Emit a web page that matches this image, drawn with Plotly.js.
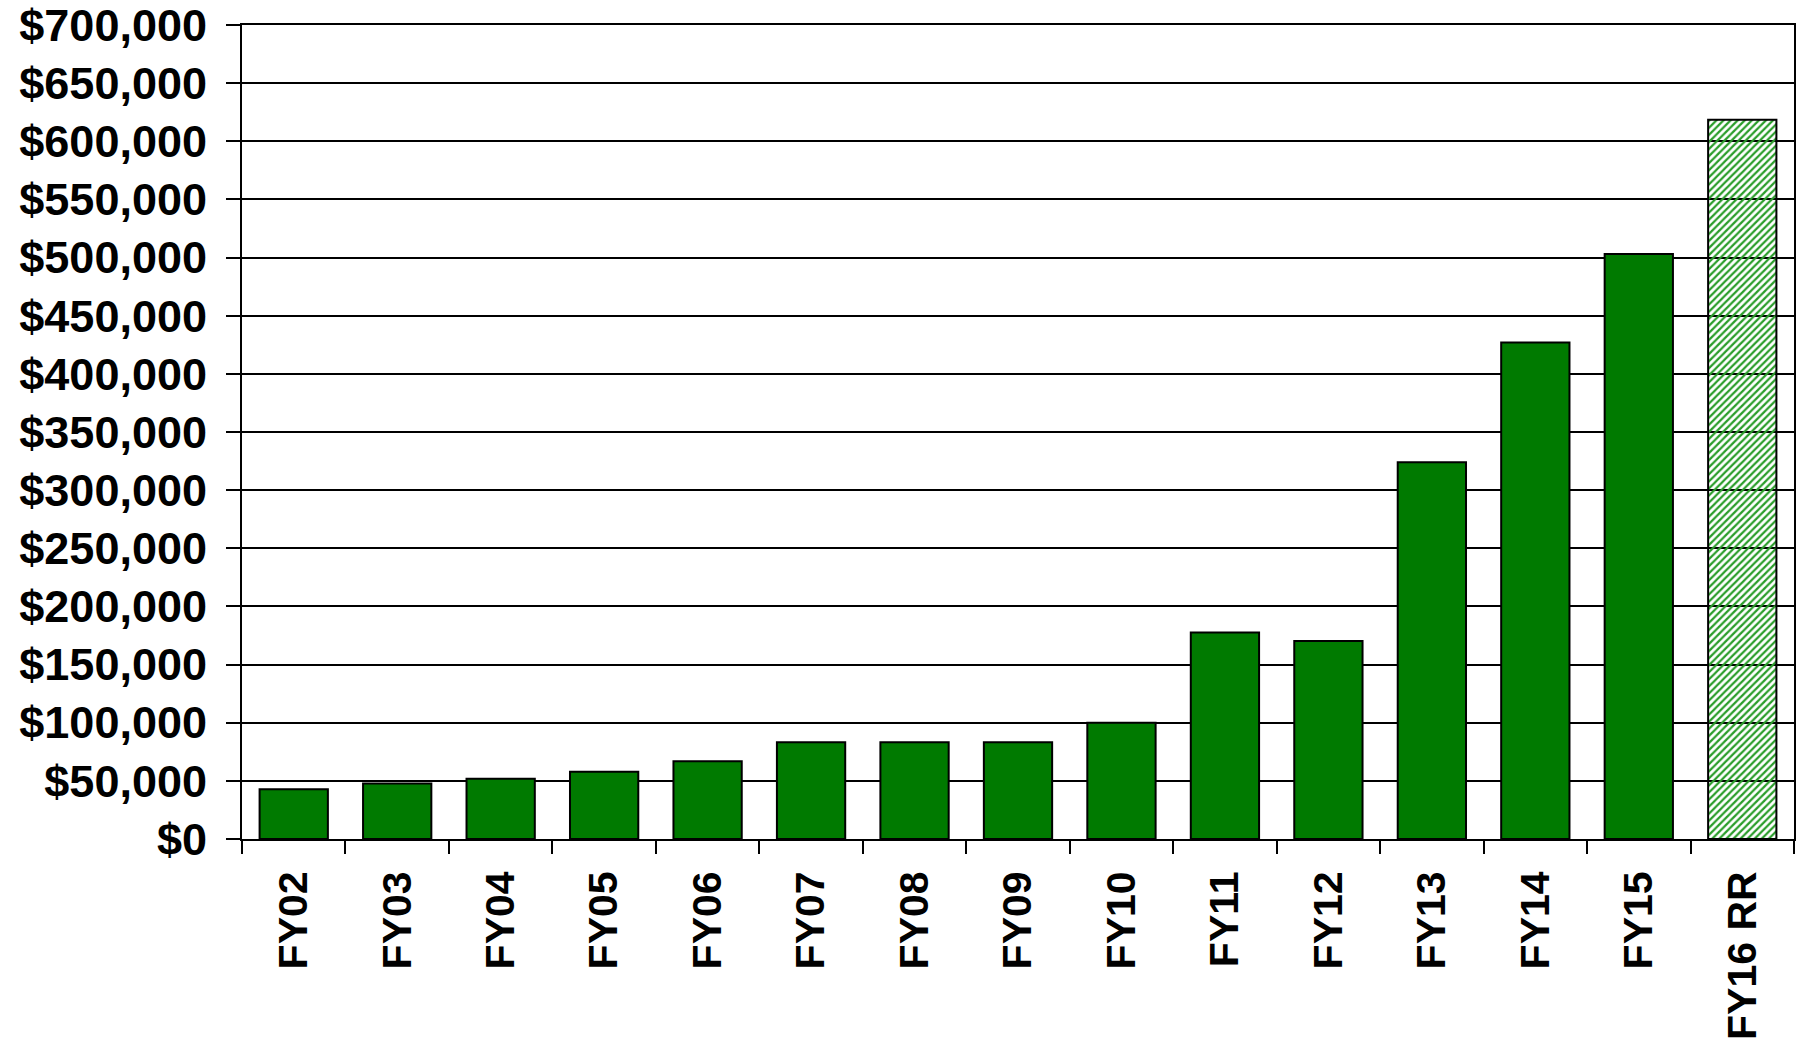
<!DOCTYPE html>
<html>
<head>
<meta charset="utf-8">
<script src="https://cdn.plot.ly/plotly-3.0.1.min.js"></script>
<style>
  html, body { margin: 0; padding: 0; background: #ffffff; }
  #chart { width: 1800px; height: 1041px; }
</style>
</head>
<body>
<div id="chart"></div>
<script>
const categories = ['FY02','FY03','FY04','FY05','FY06','FY07','FY08','FY09','FY10','FY11','FY12','FY13','FY14','FY15','FY16 RR'];
const amounts = [42800, 47800, 51800, 57900, 66800, 83300, 83300, 83200, 100000, 177600, 170300, 324000, 427000, 503000, 618500];
const patternShapes = ['', '', '', '', '', '', '', '', '', '', '', '', '', '', '/'];
const barColors = ['#007a00','#007a00','#007a00','#007a00','#007a00','#007a00','#007a00','#007a00','#007a00','#007a00','#007a00','#007a00','#007a00','#007a00','#2a9d2a'];
const yTickValues = [0, 50000, 100000, 150000, 200000, 250000, 300000, 350000, 400000, 450000, 500000, 550000, 600000, 650000, 700000];
const yTickLabels = ['$0','$50,000','$100,000','$150,000','$200,000','$250,000','$300,000','$350,000','$400,000','$450,000','$500,000','$550,000','$600,000','$650,000','$700,000'];

const trace = {
  type: 'bar',
  x: categories,
  y: amounts,
  marker: {
    color: barColors,
    line: { color: '#000000', width: 2 },
    pattern: { shape: patternShapes, bgcolor: '#ffffff', size: 5, solidity: 0.45, fillmode: 'replace' }
  },
  hoverinfo: 'x+y'
};

const layout = {
  width: 1800,
  height: 1041,
  paper_bgcolor: '#ffffff',
  plot_bgcolor: '#ffffff',
  margin: { l: 242, r: 6, t: 25, b: 202 },
  bargap: 0.34,
  showlegend: false,
  xaxis: {
    type: 'category',
    tickangle: -90,
    tickson: 'boundaries',
    ticks: 'outside',
    ticklen: 13,
    tickwidth: 2,
    tickcolor: '#000000',
    showline: true,
    linecolor: '#000000',
    linewidth: 2,
    mirror: true,
    showgrid: false,
    ticklabelstandoff: 14,
    ticklabeloverflow: 'allow',
    tickfont: { family: 'Liberation Sans, Arial, sans-serif', size: 41, color: '#000000', weight: 'bold' }
  },
  yaxis: {
    range: [0, 700050],
    tickmode: 'array',
    tickvals: yTickValues,
    ticktext: yTickLabels,
    ticks: 'outside',
    ticklen: 14,
    tickwidth: 2,
    tickcolor: '#000000',
    showline: true,
    linecolor: '#000000',
    linewidth: 2,
    mirror: true,
    showgrid: true,
    gridcolor: '#000000',
    gridwidth: 2,
    zeroline: false,
    ticklabelstandoff: 10,
    ticklabeloverflow: 'allow',
    tickfont: { family: 'Liberation Sans, Arial, sans-serif', size: 45, color: '#000000', weight: 'bold' }
  }
};

Plotly.newPlot('chart', [trace], layout, { displayModeBar: false, staticPlot: true });
</script>
</body>
</html>
